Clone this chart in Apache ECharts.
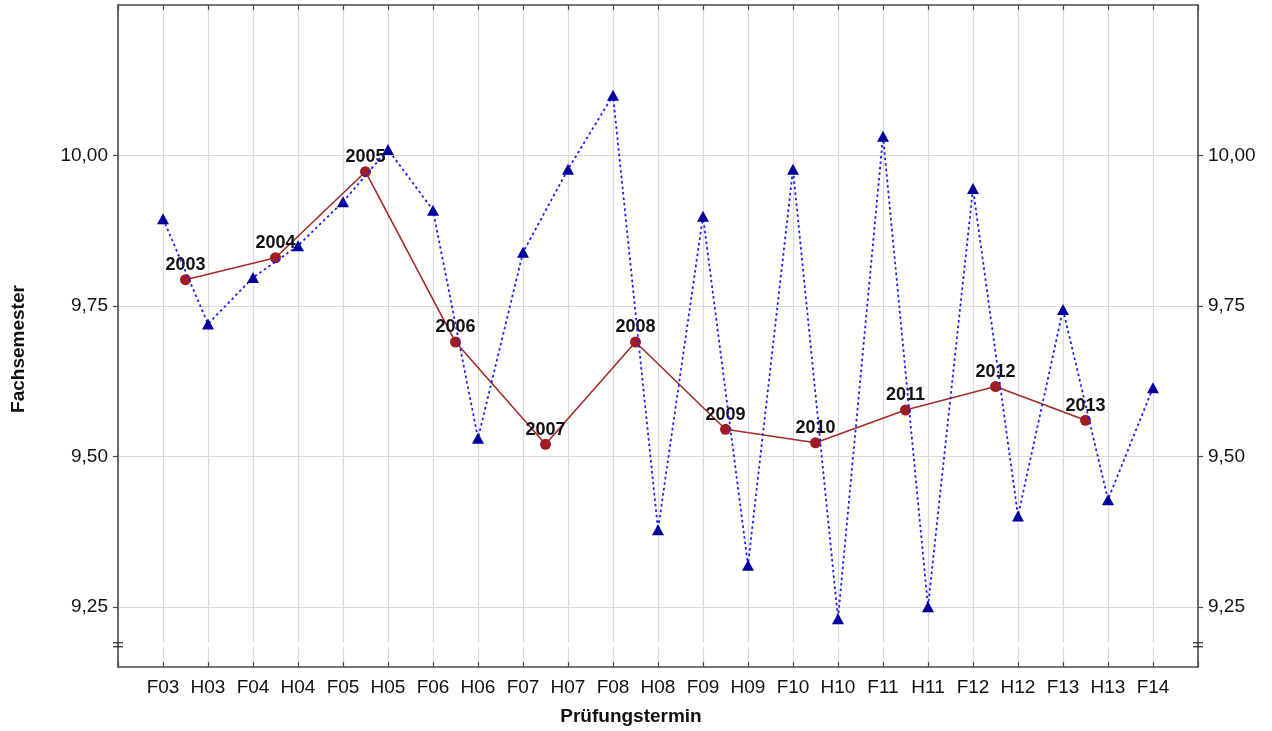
<!DOCTYPE html>
<html>
<head>
<meta charset="utf-8">
<script src="https://cdn.jsdelivr.net/npm/echarts@6/dist/echarts.min.js"></script>
<style>
html,body{margin:0;padding:0;background:#fff;}
#chart{width:1272px;height:731px;}
</style>
</head>
<body>
<div id="chart"></div>
<script>
const terms = ['F03','H03','F04','H04','F05','H05','F06','H06','F07','H07','F08','H08','F09','H09','F10','H10','F11','H11','F12','H12','F13','H13','F14'];
const termValues = [9.895, 9.720, 9.797, 9.850, 9.923, 10.010, 9.909, 9.530, 9.839, 9.977, 10.100, 9.378, 9.899, 9.319, 9.977, 9.230, 10.032, 9.250, 9.945, 9.401, 9.744, 9.428, 9.614];
const years = ['2003','2004','2005','2006','2007','2008','2009','2010','2011','2012','2013'];
const yearValues = [9.7935, 9.830, 9.973, 9.690, 9.520, 9.690, 9.545, 9.5225, 9.577, 9.616, 9.560];
const yTicks = [9.25, 9.50, 9.75, 10.00];
const xTitle = 'Prüfungstermin';
const yTitle = 'Fachsemester';

const FONT = '"Liberation Sans", Arial, Helvetica, sans-serif';
const AXIS_COLOR = '#4a4a4a';
const GRID_COLOR = '#dadada';

const termData = terms.map((t, i) => [i, termValues[i]]);
const yearData = years.map((y, i) => [terms.indexOf('F' + y.slice(2)) + 0.5, yearValues[i], y]);

const fmtY = v => Number(v).toFixed(2).replace('.', ',');

const chart = echarts.init(document.getElementById('chart'), null, {renderer: 'canvas'});

const axisLine = {show: true, onZero: false, lineStyle: {color: AXIS_COLOR, width: 1.6}};

const option = {
  animation: false,
  backgroundColor: '#ffffff',
  grid: {left: 118, right: 74, top: 5, bottom: 63, containLabel: false},
  xAxis: [
    {
      type: 'value', min: -1, max: 23, interval: 1, position: 'bottom',
      axisLine: axisLine,
      axisTick: {show: true, inside: true, length: 5, lineStyle: {color: AXIS_COLOR, width: 1.2}},
      axisLabel: {
        margin: 11, fontFamily: FONT, fontSize: 19, color: '#111',
        formatter: v => (terms[v] !== undefined ? terms[v] : '')
      },
      splitLine: {show: true, lineStyle: {color: GRID_COLOR, width: 1.2}},
      name: xTitle, nameLocation: 'middle', nameGap: 40,
      nameTextStyle: {fontFamily: FONT, fontSize: 19, fontWeight: 'bold', color: '#111', padding: [0, 54, 0, 0]}
    },
    {
      type: 'value', min: -1, max: 23, interval: 1, position: 'top',
      axisLine: axisLine,
      axisTick: {show: true, inside: true, length: 5, lineStyle: {color: AXIS_COLOR, width: 1.2}},
      axisLabel: {show: false},
      splitLine: {show: false}
    }
  ],
  yAxis: [
    {
      type: 'value', min: 9.15, max: 10.25, position: 'left',
      axisLine: axisLine,
      axisTick: {show: true, inside: false, length: 5, customValues: yTicks, lineStyle: {color: AXIS_COLOR, width: 1.2}},
      axisLabel: {customValues: yTicks, margin: 10, fontFamily: FONT, fontSize: 19, color: '#111', formatter: fmtY},
      splitLine: {show: true, lineStyle: {color: GRID_COLOR, width: 1.2}},
      name: yTitle, nameLocation: 'middle', nameGap: 90, nameRotate: 90,
      nameTextStyle: {fontFamily: FONT, fontSize: 19, fontWeight: 'bold', color: '#111', padding: [0, 26, 0, 0]}
    },
    {
      type: 'value', min: 9.15, max: 10.25, position: 'right',
      axisLine: axisLine,
      axisTick: {show: true, inside: false, length: 5, customValues: yTicks, lineStyle: {color: AXIS_COLOR, width: 1.2}},
      axisLabel: {customValues: yTicks, margin: 10, fontFamily: FONT, fontSize: 19, color: '#111', formatter: fmtY},
      splitLine: {show: false}
    }
  ],
  series: [
    {
      name: 'Jahr', type: 'line', xAxisIndex: 0, yAxisIndex: 0,
      data: yearData,
      symbol: 'circle', symbolSize: 11,
      itemStyle: {color: '#a01c20'},
      lineStyle: {color: '#a52a2a', width: 1.6},
      label: {
        show: true, position: 'top', distance: 0,
        fontFamily: FONT, fontSize: 18, fontWeight: 'bold', color: '#111',
        formatter: p => p.data[2]
      },
      z: 2
    },
    {
      name: 'Termin', type: 'line', xAxisIndex: 0, yAxisIndex: 0,
      data: termData,
      symbol: 'triangle', symbolSize: [12, 11],
      itemStyle: {color: '#00009c'},
      lineStyle: {color: '#1a1aff', width: 1.8, type: [2.5, 3]},
      z: 3
    }
  ]
};

chart.setOption(option);

// axis-break marks (drawn at the break value through the axis scales)
const breakValue = 9.187;
const yb = chart.convertToPixel({yAxisIndex: 0}, breakValue);
const xl = chart.convertToPixel({xAxisIndex: 0}, -1);
const xr = chart.convertToPixel({xAxisIndex: 0}, 23);
const markStyle = {stroke: '#222', lineWidth: 1.2};
const g = [
  {type: 'rect', shape: {x: xl + 1, y: yb - 2, width: xr - xl - 2, height: 4}, style: {fill: '#fff'}, z: 1, silent: true}
];
[xl, xr].forEach(x => {
  g.push({type: 'line', shape: {x1: x - 5, y1: yb - 2, x2: x + 5, y2: yb - 2}, style: markStyle, z: 5, silent: true});
  g.push({type: 'line', shape: {x1: x - 5, y1: yb + 2, x2: x + 5, y2: yb + 2}, style: markStyle, z: 5, silent: true});
});
chart.setOption({graphic: g});
</script>
</body>
</html>
